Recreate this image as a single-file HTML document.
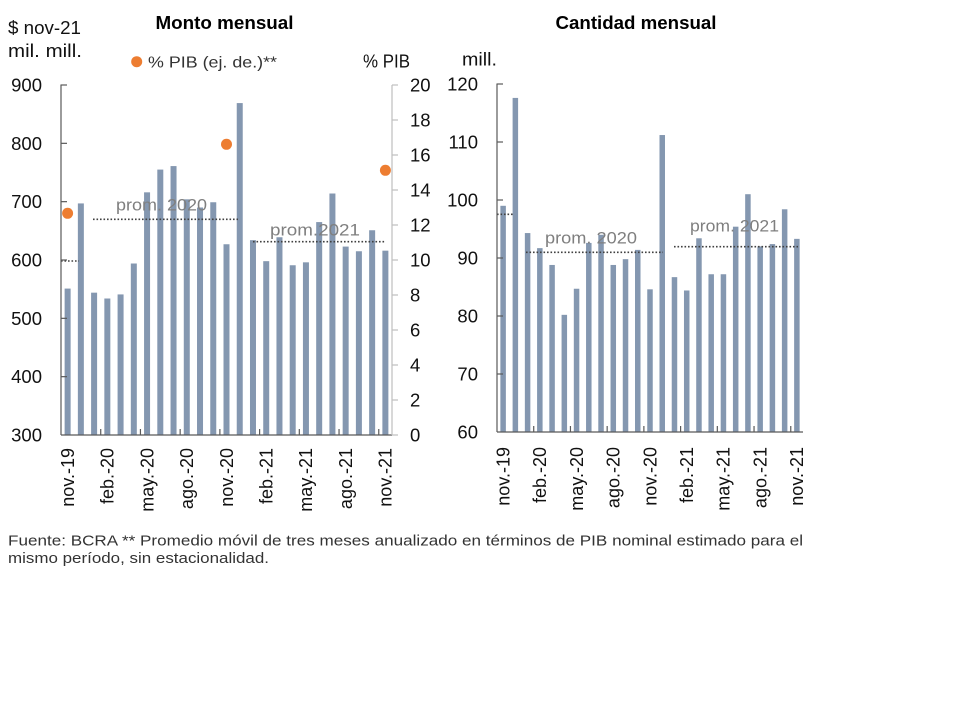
<!DOCTYPE html>
<html>
<head>
<meta charset="utf-8">
<style>
html,body{margin:0;padding:0;background:#fff;}
svg{display:block;}
text{font-family:"Liberation Sans",Arial,sans-serif;}
</style>
</head>
<body>
<svg width="960" height="720" viewBox="0 0 960 720" xmlns="http://www.w3.org/2000/svg">
<rect x="0" y="0" width="960" height="720" fill="#fff"/>

<!-- ===== LEFT CHART ===== -->
<text x="224.5" y="29" font-size="18" font-weight="bold" text-anchor="middle" fill="#000" textLength="138" lengthAdjust="spacingAndGlyphs">Monto mensual</text>
<text x="8" y="34" font-size="18" fill="#111" textLength="73" lengthAdjust="spacingAndGlyphs">$ nov-21</text>
<text x="8" y="57" font-size="18" fill="#111" textLength="74" lengthAdjust="spacingAndGlyphs">mil. mill.</text>
<circle cx="136.7" cy="61.7" r="5.5" fill="#ed7d31"/>
<text x="148" y="67.5" font-size="16" fill="#333" textLength="129" lengthAdjust="spacingAndGlyphs">% PIB (ej. de.)**</text>
<text x="363" y="67.5" font-size="18" fill="#111" textLength="47" lengthAdjust="spacingAndGlyphs">% PIB</text>

<!-- bars left -->
<g fill="#8497b0">
<rect x="64.62" y="288.58" width="6" height="146.42"/>
<rect x="77.86" y="203.42" width="6" height="231.58"/>
<rect x="91.10" y="292.67" width="6" height="142.33"/>
<rect x="104.34" y="298.5" width="6" height="136.5"/>
<rect x="117.58" y="294.42" width="6" height="140.58"/>
<rect x="130.82" y="263.5" width="6" height="171.5"/>
<rect x="144.06" y="192.33" width="6" height="242.67"/>
<rect x="157.30" y="169.58" width="6" height="265.42"/>
<rect x="170.54" y="166.08" width="6" height="268.92"/>
<rect x="183.78" y="199.33" width="6" height="235.67"/>
<rect x="197.02" y="207.5" width="6" height="227.5"/>
<rect x="210.26" y="202.25" width="6" height="232.75"/>
<rect x="223.50" y="244.25" width="6" height="190.75"/>
<rect x="236.74" y="103.08" width="6" height="331.92"/>
<rect x="249.98" y="240.17" width="6" height="194.83"/>
<rect x="263.22" y="261.17" width="6" height="173.83"/>
<rect x="276.46" y="237.25" width="6" height="197.75"/>
<rect x="289.70" y="265.25" width="6" height="169.75"/>
<rect x="302.94" y="262.33" width="6" height="172.67"/>
<rect x="316.18" y="222.08" width="6" height="212.92"/>
<rect x="329.42" y="193.5" width="6" height="241.5"/>
<rect x="342.66" y="246.58" width="6" height="188.42"/>
<rect x="355.90" y="251.25" width="6" height="183.75"/>
<rect x="369.14" y="230.25" width="6" height="204.75"/>
<rect x="382.38" y="250.67" width="6" height="184.33"/>
</g>

<!-- averages left -->
<g stroke="#404040" stroke-width="1.6" stroke-dasharray="1.6,1.9" fill="none">
<line x1="61" y1="261" x2="79" y2="261"/>
<line x1="93" y1="219.3" x2="238" y2="219.3"/>
<line x1="253" y1="241.7" x2="386" y2="241.7"/>
</g>
<text x="116" y="210.7" font-size="17" fill="#7f7f7f" textLength="91" lengthAdjust="spacingAndGlyphs">prom. 2020</text>
<text x="270" y="235.5" font-size="17" fill="#7f7f7f" textLength="90" lengthAdjust="spacingAndGlyphs">prom.2021</text>

<!-- dots -->
<g fill="#ed7d31">
<circle cx="67.6" cy="213.3" r="5.5"/>
<circle cx="226.5" cy="144.3" r="5.5"/>
<circle cx="385.4" cy="170.3" r="5.5"/>
</g>

<!-- left axes -->
<g stroke="#595959" stroke-width="1.2" fill="none">
<line x1="61" y1="84.5" x2="61" y2="435"/>
<line x1="61" y1="435" x2="392" y2="435"/>
<line x1="61" y1="85" x2="67" y2="85"/>
<line x1="61" y1="143.33" x2="67" y2="143.33"/>
<line x1="61" y1="201.67" x2="67" y2="201.67"/>
<line x1="61" y1="260" x2="67" y2="260"/>
<line x1="61" y1="318.33" x2="67" y2="318.33"/>
<line x1="61" y1="376.67" x2="67" y2="376.67"/>
<line x1="100.72" y1="429" x2="100.72" y2="435"/>
<line x1="140.44" y1="429" x2="140.44" y2="435"/>
<line x1="180.16" y1="429" x2="180.16" y2="435"/>
<line x1="219.88" y1="429" x2="219.88" y2="435"/>
<line x1="259.6" y1="429" x2="259.6" y2="435"/>
<line x1="299.32" y1="429" x2="299.32" y2="435"/>
<line x1="339.04" y1="429" x2="339.04" y2="435"/>
<line x1="378.76" y1="429" x2="378.76" y2="435"/>
</g>
<g stroke="#bfbfbf" stroke-width="1.2" fill="none">
<line x1="392" y1="85" x2="392" y2="435"/>
<line x1="392" y1="85" x2="398" y2="85"/>
<line x1="392" y1="120" x2="398" y2="120"/>
<line x1="392" y1="155" x2="398" y2="155"/>
<line x1="392" y1="190" x2="398" y2="190"/>
<line x1="392" y1="225" x2="398" y2="225"/>
<line x1="392" y1="260" x2="398" y2="260"/>
<line x1="392" y1="295" x2="398" y2="295"/>
<line x1="392" y1="330" x2="398" y2="330"/>
<line x1="392" y1="365" x2="398" y2="365"/>
<line x1="392" y1="400" x2="398" y2="400"/>
<line x1="392" y1="435" x2="398" y2="435"/>
</g>

<!-- left y labels -->
<g font-size="18.5" fill="#111" text-anchor="end">
<text x="42" y="91.5">900</text>
<text x="42" y="149.8">800</text>
<text x="42" y="208.2">700</text>
<text x="42" y="266.5">600</text>
<text x="42" y="324.8">500</text>
<text x="42" y="383.2">400</text>
<text x="42" y="441.5">300</text>
</g>
<!-- right y labels -->
<g font-size="18.5" fill="#111" text-anchor="start">
<text x="410" y="91.5">20</text>
<text x="410" y="126.5">18</text>
<text x="410" y="161.5">16</text>
<text x="410" y="196.5">14</text>
<text x="410" y="231.5">12</text>
<text x="410" y="266.5">10</text>
<text x="410" y="301.5">8</text>
<text x="410" y="336.5">6</text>
<text x="410" y="371.5">4</text>
<text x="410" y="406.5">2</text>
<text x="410" y="441.5">0</text>
</g>

<!-- left x labels -->
<g font-size="18" fill="#111" text-anchor="end">
<text transform="translate(73.9,448) rotate(-90)">nov.-19</text>
<text transform="translate(113.6,448) rotate(-90)">feb.-20</text>
<text transform="translate(153.4,448) rotate(-90)">may.-20</text>
<text transform="translate(193.1,448) rotate(-90)">ago.-20</text>
<text transform="translate(232.8,448) rotate(-90)">nov.-20</text>
<text transform="translate(272.5,448) rotate(-90)">feb.-21</text>
<text transform="translate(312.2,448) rotate(-90)">may.-21</text>
<text transform="translate(351.9,448) rotate(-90)">ago.-21</text>
<text transform="translate(391.7,448) rotate(-90)">nov.-21</text>
</g>

<!-- ===== RIGHT CHART ===== -->
<text x="636" y="29" font-size="18" font-weight="bold" text-anchor="middle" fill="#000" textLength="161" lengthAdjust="spacingAndGlyphs">Cantidad mensual</text>
<text x="462" y="65.7" font-size="18" fill="#111" textLength="35" lengthAdjust="spacingAndGlyphs">mill.</text>

<g fill="#8497b0">
<rect x="500.37" y="205.8" width="5.5" height="226.2"/>
<rect x="512.61" y="97.92" width="5.5" height="334.08"/>
<rect x="524.85" y="233.06" width="5.5" height="198.94"/>
<rect x="537.09" y="248.14" width="5.5" height="183.86"/>
<rect x="549.33" y="264.96" width="5.5" height="167.04"/>
<rect x="561.57" y="314.84" width="5.5" height="117.16"/>
<rect x="573.81" y="288.74" width="5.5" height="143.26"/>
<rect x="586.05" y="242.92" width="5.5" height="189.08"/>
<rect x="598.29" y="234.8" width="5.5" height="197.2"/>
<rect x="610.53" y="264.96" width="5.5" height="167.04"/>
<rect x="622.77" y="259.16" width="5.5" height="172.84"/>
<rect x="635.01" y="249.88" width="5.5" height="182.12"/>
<rect x="647.25" y="289.32" width="5.5" height="142.68"/>
<rect x="659.49" y="135.04" width="5.5" height="296.96"/>
<rect x="671.73" y="277.14" width="5.5" height="154.86"/>
<rect x="683.97" y="290.48" width="5.5" height="141.52"/>
<rect x="696.21" y="238.28" width="5.5" height="193.72"/>
<rect x="708.45" y="274.24" width="5.5" height="157.76"/>
<rect x="720.69" y="274.24" width="5.5" height="157.76"/>
<rect x="732.93" y="226.68" width="5.5" height="205.32"/>
<rect x="745.17" y="194.2" width="5.5" height="237.8"/>
<rect x="757.41" y="246.4" width="5.5" height="185.6"/>
<rect x="769.65" y="244.08" width="5.5" height="187.92"/>
<rect x="781.89" y="209.28" width="5.5" height="222.72"/>
<rect x="794.13" y="238.86" width="5.5" height="193.14"/>
</g>

<g stroke="#404040" stroke-width="1.6" stroke-dasharray="1.6,1.9" fill="none">
<line x1="497" y1="214.3" x2="513" y2="214.3"/>
<line x1="526" y1="252.3" x2="663" y2="252.3"/>
<line x1="674" y1="246.7" x2="798" y2="246.7"/>
</g>
<text x="545" y="243.3" font-size="17" fill="#7f7f7f" textLength="92" lengthAdjust="spacingAndGlyphs">prom. 2020</text>
<text x="690" y="231.5" font-size="17" fill="#7f7f7f" textLength="89" lengthAdjust="spacingAndGlyphs">prom. 2021</text>

<g stroke="#595959" stroke-width="1.2" fill="none">
<line x1="497" y1="83.5" x2="497" y2="432"/>
<line x1="497" y1="432" x2="803" y2="432"/>
<line x1="497" y1="84" x2="503" y2="84"/>
<line x1="497" y1="142" x2="503" y2="142"/>
<line x1="497" y1="200" x2="503" y2="200"/>
<line x1="497" y1="258" x2="503" y2="258"/>
<line x1="497" y1="316" x2="503" y2="316"/>
<line x1="497" y1="374" x2="503" y2="374"/>
<line x1="533.72" y1="426" x2="533.72" y2="432"/>
<line x1="570.44" y1="426" x2="570.44" y2="432"/>
<line x1="607.16" y1="426" x2="607.16" y2="432"/>
<line x1="643.88" y1="426" x2="643.88" y2="432"/>
<line x1="680.6" y1="426" x2="680.6" y2="432"/>
<line x1="717.32" y1="426" x2="717.32" y2="432"/>
<line x1="754.04" y1="426" x2="754.04" y2="432"/>
<line x1="790.76" y1="426" x2="790.76" y2="432"/>
</g>

<g font-size="18.5" fill="#111" text-anchor="end">
<text x="478" y="90.5">120</text>
<text x="478" y="148.5">110</text>
<text x="478" y="206.5">100</text>
<text x="478" y="264.5">90</text>
<text x="478" y="322.5">80</text>
<text x="478" y="380.5">70</text>
<text x="478" y="438.5">60</text>
</g>

<g font-size="18" fill="#111" text-anchor="end">
<text transform="translate(509.4,447) rotate(-90)">nov.-19</text>
<text transform="translate(546.1,447) rotate(-90)">feb.-20</text>
<text transform="translate(582.9,447) rotate(-90)">may.-20</text>
<text transform="translate(619.6,447) rotate(-90)">ago.-20</text>
<text transform="translate(656.3,447) rotate(-90)">nov.-20</text>
<text transform="translate(693.0,447) rotate(-90)">feb.-21</text>
<text transform="translate(729.7,447) rotate(-90)">may.-21</text>
<text transform="translate(766.4,447) rotate(-90)">ago.-21</text>
<text transform="translate(803.2,447) rotate(-90)">nov.-21</text>
</g>

<!-- footnote -->
<text x="8" y="545.5" font-size="15" fill="#333" textLength="795" lengthAdjust="spacingAndGlyphs">Fuente: BCRA ** Promedio móvil de tres meses anualizado en términos de PIB nominal estimado para el</text>
<text x="8" y="563" font-size="15" fill="#333" textLength="261" lengthAdjust="spacingAndGlyphs">mismo período, sin estacionalidad.</text>
</svg>
</body>
</html>
